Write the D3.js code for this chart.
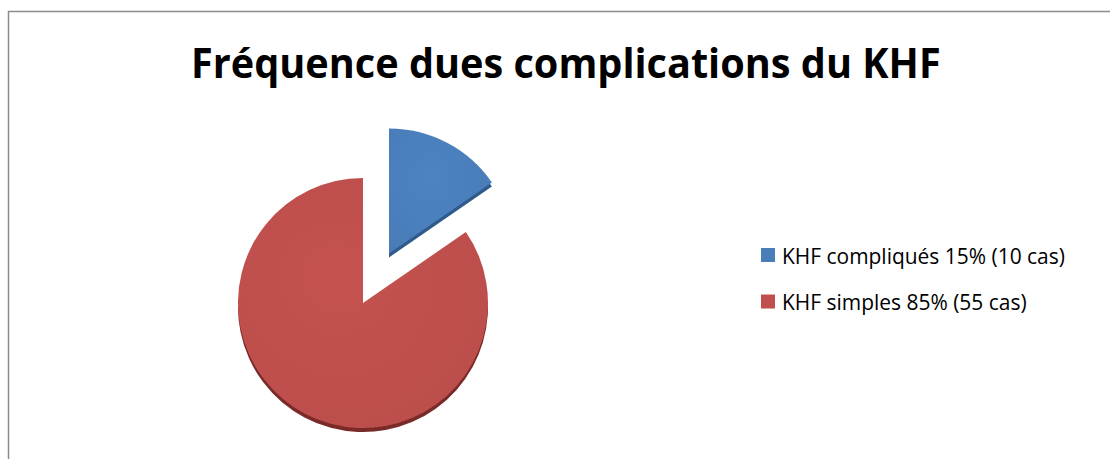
<!DOCTYPE html>
<html>
<head>
<meta charset="utf-8">
<script src="https://cdn.jsdelivr.net/npm/d3@7"></script>
<style>
  html, body { margin: 0; padding: 0; background: #ffffff; }
  svg { display: block; }
  text { font-variant-ligatures: none; }
</style>
</head>
<body>
<svg id="chart" width="1110" height="459"></svg>
<script>
// Chart content
const title = "Fréquence dues complications du KHF";
const categories = ["KHF compliqués 15% (10 cas)", "KHF simples 85% (55 cas)"];
const values = [10, 55];
const colors = ["#4A7EBB", "#BE4F4C"];
const sideColors = ["#2f5a8c", "#7a2a28"];

const svg = d3.select("#chart");
const W = 1110, H = 459;

// Chart frame (runs past the right and bottom edges)
svg.append("rect")
  .attr("x", 8.5).attr("y", 11.5)
  .attr("width", W + 20).attr("height", H + 20)
  .attr("fill", "#ffffff")
  .attr("stroke", "#8c8c8c")
  .attr("stroke-width", 1.5);

// Text helper: places a left-anchored label and narrows it to a given width
function fitText(sel, x, y, width) {
  const w = sel.node().getComputedTextLength();
  sel.attr("x", 0).attr("y", 0)
    .attr("transform", `translate(${x},${y}) scale(${width / w},1)`);
}

// Title
const titleText = svg.append("text")
  .attr("font-family", "'Open Sans', sans-serif")
  .attr("font-weight", "bold")
  .attr("font-size", 42)
  .attr("fill", "#000000")
  .text(title);
fitText(titleText, 191, 78, 750);

// Pie
const cx = 363, cy = 303, r = 125, explode = 56, depth = 4;
const pie = d3.pie().sort(null).value(d => d)(values);
const arc = d3.arc().innerRadius(0).outerRadius(r);

const defs = svg.append("defs");
defs.append("clipPath").attr("id", "lowerHalf")
  .append("rect").attr("x", -r - 20).attr("y", 0).attr("width", 2 * r + 40).attr("height", r + 20);

colors.forEach((c, i) => {
  const g = defs.append("radialGradient").attr("id", "face" + i)
    .attr("cx", "40%").attr("cy", "40%").attr("r", "75%");
  g.append("stop").attr("offset", "0%").attr("stop-color", d3.color(c).brighter(0.1));
  g.append("stop").attr("offset", "100%").attr("stop-color", d3.color(c).darker(0.06));
});

const slices = svg.append("g").attr("transform", `translate(${cx},${cy})`)
  .selectAll("g")
  .data(pie)
  .join("g")
  .attr("transform", (d, i) => {
    if (i !== 0) return null;
    const a = (d.startAngle + d.endAngle) / 2;
    return `translate(${explode * Math.sin(a)},${-explode * Math.cos(a)})`;
  });

// Side of the slice (thickness), seen below the top face
slices.append("path")
  .attr("d", arc)
  .attr("transform", `translate(0,${depth})`)
  .attr("clip-path", (d, i) => i === 1 ? "url(#lowerHalf)" : null)
  .attr("fill", (d, i) => sideColors[i]);

// Top face
slices.append("path")
  .attr("d", arc)
  .attr("fill", (d, i) => `url(#face${i})`);

// Legend
const legend = svg.append("g")
  .selectAll("g")
  .data(categories)
  .join("g")
  .attr("transform", (d, i) => `translate(761,${248 + i * 46.5})`);

legend.append("rect")
  .attr("width", 14).attr("height", 14)
  .attr("fill", (d, i) => colors[i]);

const legendText = legend.append("text")
  .attr("font-family", "'Open Sans', sans-serif")
  .attr("font-size", 21)
  .attr("fill", "#000000")
  .text(d => d);
{
  const first = legendText.nodes()[0];
  const k = 283 / first.getComputedTextLength();
  legendText.attr("transform", `translate(21,15.5) scale(${k},1)`);
}
</script>
</body>
</html>
